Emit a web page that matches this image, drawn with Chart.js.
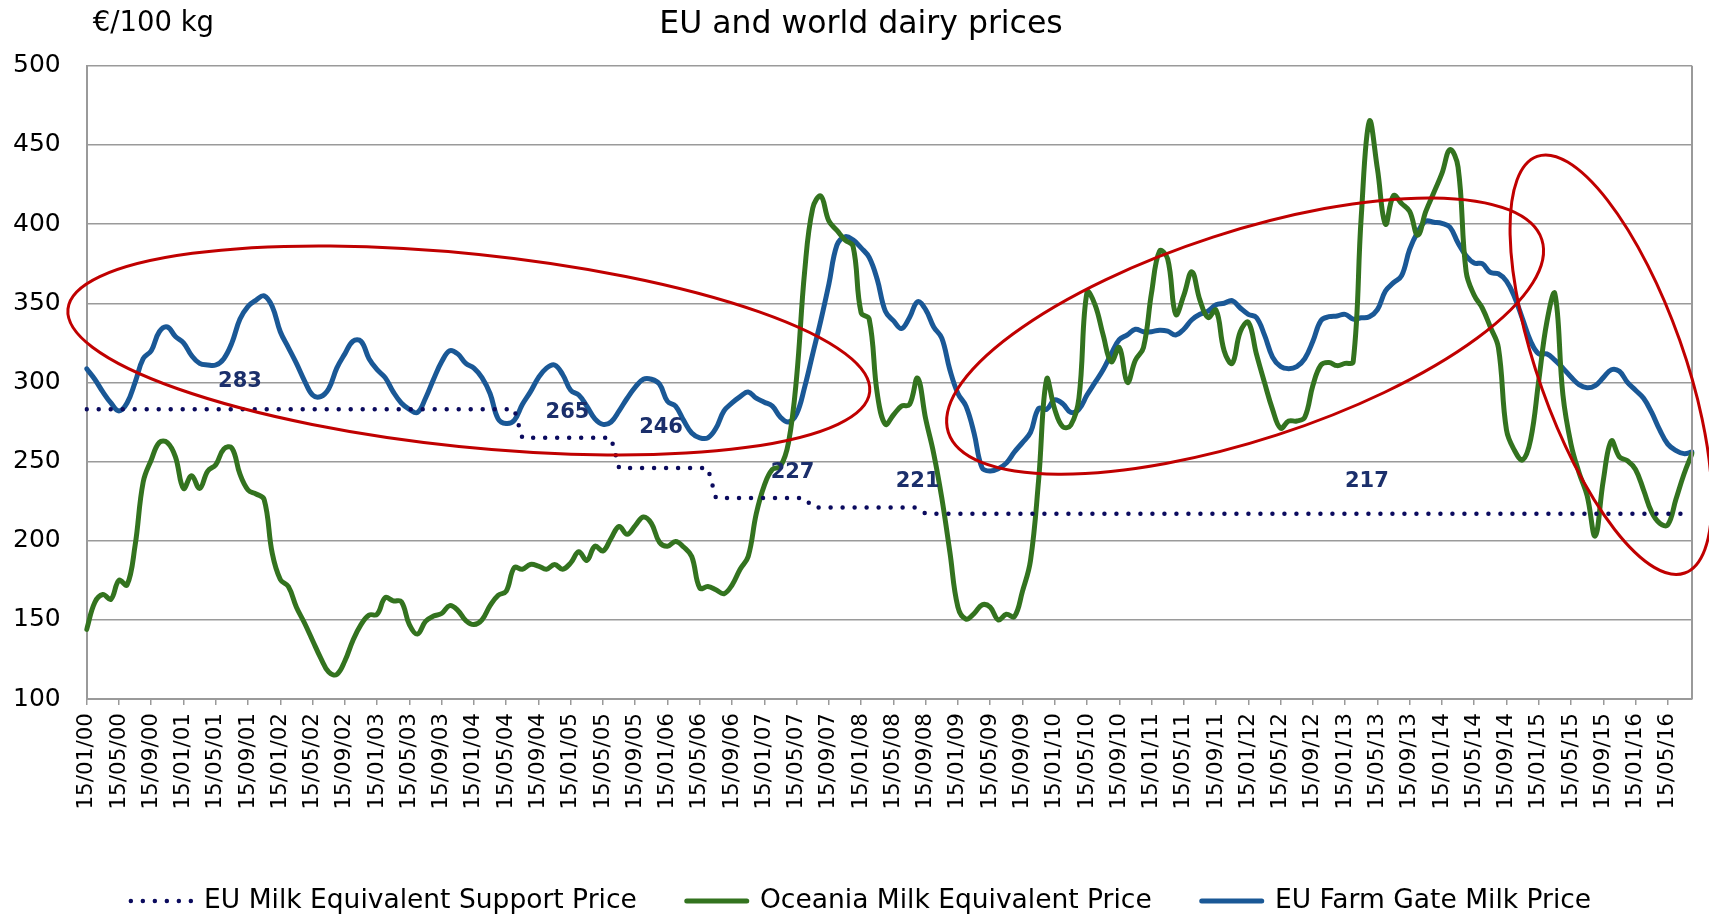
<!DOCTYPE html>
<html>
<head>
<meta charset="utf-8">
<script src="https://cdn.jsdelivr.net/npm/chart.js@4.4.1/dist/chart.umd.min.js"></script>
<style>
html,body{margin:0;padding:0;background:#fff;}
canvas{display:block;}
</style>
</head>
<body>
<canvas id="c" width="1709" height="916"></canvas>
<script>
// ---------- DATA ----------
const chartTitle = 'EU and world dairy prices';
const unitLabel = '€/100 kg';
const seriesNames = ['EU Milk Equivalent Support Price', 'Oceania Milk Equivalent Price', 'EU Farm Gate Milk Price'];

// monthly categories Jan 2000 .. Aug 2016, labelled "15/MM/YY"
const startYear = 2000, monthCount = 200, tickEvery = 4;
const categories = [];
for (let i = 0; i < monthCount; i++) {
  const yy = startYear + Math.floor(i / 12), mm = (i % 12) + 1;
  categories.push('15/' + String(mm).padStart(2, '0') + '/' + String(yy % 100).padStart(2, '0'));
}

// EU support price steps (€/100 kg)
const supportLevels = [283, 265, 246, 227, 221, 217];
const supportMonths = [54, 12, 12, 12, 14, 96];   // months at each level
const supportPrice = [];
supportLevels.forEach((lv, i) => { for (let k = 0; k < supportMonths[i]; k++) supportPrice.push(lv); });

const oceaniaPrice = [
  144, 161, 166, 163, 175, 172, 197, 237, 251, 262, 262, 253,
  233, 241, 233, 244, 248, 258, 258.5, 242, 232, 229.5, 226, 192,
  175.5, 171, 158, 148, 137, 126, 117, 115.5, 124, 137, 147, 153,
  153.5, 164, 162, 161.5, 147, 141, 149, 152.4, 154, 159, 156, 149.5,
  147, 150, 159, 165.5, 168, 183, 182, 185, 184, 182, 185, 182,
  186, 193, 187.5, 196.5, 193.5, 201.5, 209, 204, 209.5, 215, 211, 199,
  196.5, 199.5, 196, 190, 170, 171, 169, 166.5, 172, 182, 190, 217,
  235, 245, 247, 262, 303, 370, 410, 417.7, 402, 396, 390, 386,
  344, 340, 293, 273.5, 279.4, 285, 286, 302.7, 277, 255, 227, 193,
  158, 150.5, 154, 159.5, 158, 150, 153.5, 152, 168, 187.6, 238, 302,
  283, 272, 273, 290, 357, 349, 330, 313, 322, 300, 314, 322,
  356.5, 383, 378, 343, 355, 369.8, 352, 341, 345.7, 320, 312, 332,
  338, 318, 300, 283, 271, 275.6, 275.6, 278, 298, 311, 312.6, 310.6,
  312, 313, 404.8, 465, 435, 400, 418, 413, 408, 393, 408, 420,
  432, 447, 436, 370, 355, 347, 335, 322, 270, 257, 251, 264,
  301, 338, 356, 292, 261, 243, 228.5, 203, 238, 263, 253, 250.5,
  245, 232, 218, 211, 210, 226, 242, 255
];

const farmGatePrice = [
  308.6, 302, 294, 287, 282, 287, 300, 315, 320, 332, 335, 329,
  325, 317, 312, 311, 311, 315, 325, 340, 348, 352, 354.7, 348,
  332, 322, 312, 301, 292, 291, 296, 309, 318, 326, 326, 315,
  308, 303, 294, 287, 283, 281, 290, 302, 313, 320, 318, 312,
  309, 303, 293, 277, 274, 276, 286, 294, 303, 309, 311, 305,
  295, 292, 285, 277, 273.5, 275, 282, 290, 297, 302, 302, 299,
  288, 285, 276, 268, 265, 265, 271, 282, 287, 291, 294, 290,
  287.5, 285, 278, 275, 280, 297, 318, 339, 362, 386.7, 392, 390,
  385, 379, 365, 345, 339, 334, 341, 351, 346, 335, 328, 308,
  293, 285, 268, 246, 244, 245.5, 249, 256, 262, 268.4, 283.5, 283,
  289, 286.5, 281, 283, 292, 300, 308, 318, 327, 330, 333.6, 332,
  332, 333, 332.4, 330, 333.6, 339.6, 343, 345, 349, 350, 351.7, 347,
  343, 341, 330, 316, 310, 308.7, 310, 315, 326, 339, 341.5, 342,
  343, 340, 340.8, 341.5, 346, 357.7, 363, 367.4, 384, 395, 401.9, 401.2,
  400.5, 398, 388, 380, 375.4, 375, 369.5, 368.6, 364, 354, 340, 326,
  318, 318, 314, 309, 303.4, 298.6, 296.6, 298, 303, 308, 307, 300,
  295, 290, 281, 270, 261, 257, 255, 256
];

const yMin = 100, yMax = 500, yStep = 50;
const stepLabels = ['283', '265', '246', '227', '221', '217'];

// ---------- DECORATION CONFIG (positions in data units / px) ----------
const stepLabelAnchors = [[19.0, 300.6], [59.6, 281], [71.2, 271.5], [87.5, 242.8], [103, 237.3], [158.7, 237.4]];
const ellipses = [
  { m: 47.37, v: 320.2, rx: 403, ry: 96.5, rot: 5.9 },
  { m: 143.6, v: 329.3, rx: 312, ry: 104, rot: -18 },
  { m: 188.95, v: 311.2, rx: 221, ry: 73, rot: 70.5 }
];

const FONT = "'DejaVu Sans', Verdana, sans-serif";
Chart.defaults.font.family = FONT;
Chart.defaults.color = '#000';

const decor = {
  id: 'decor',
  afterLayout(chart) {
    // let the y tick labels use the space left of the axis box
    chart.scales.y.left = 0;
  },
  afterDatasetsDraw(chart) {
    const { ctx, chartArea, scales } = chart;
    const x = scales.x, y = scales.y;
    ctx.save();
    ctx.strokeStyle = '#9a9a9a';
    ctx.lineWidth = 2;
    ctx.beginPath();
    ctx.moveTo(chartArea.right, chartArea.top);
    ctx.lineTo(chartArea.right, chartArea.bottom);
    ctx.stroke();

    ctx.fillStyle = '#1b2f6b';
    ctx.font = 'bold 21px ' + FONT;
    ctx.textAlign = 'center';
    ctx.textBaseline = 'middle';
    stepLabels.forEach((t, i) => {
      const a = stepLabelAnchors[i];
      ctx.fillText(t, x.getPixelForValue(a[0]), y.getPixelForValue(a[1]));
    });

    ctx.strokeStyle = '#c00000';
    ctx.lineWidth = 3;
    ellipses.forEach(e => {
      ctx.beginPath();
      ctx.ellipse(x.getPixelForValue(e.m), y.getPixelForValue(e.v), e.rx, e.ry, e.rot * Math.PI / 180, 0, Math.PI * 2);
      ctx.stroke();
    });
    ctx.restore();
  },
  afterDraw(chart) {
    const { ctx, chartArea } = chart;
    ctx.save();
    ctx.fillStyle = '#000';
    ctx.font = '27.5px ' + FONT;
    ctx.textAlign = 'left';
    ctx.textBaseline = 'alphabetic';
    ctx.fillText(unitLabel, chartArea.left + 6, chartArea.top - 35);
    ctx.restore();
  }
};

new Chart(document.getElementById('c'), {
  type: 'line',
  data: {
    labels: categories,
    datasets: [
      {
        label: seriesNames[0], data: supportPrice,
        borderColor: '#0b0b5e', backgroundColor: 'rgba(0,0,0,0)',
        borderWidth: 4.5, borderDash: [0, 12], borderCapStyle: 'round', borderJoinStyle: 'round',
        tension: 0, pointRadius: 0, pointHoverRadius: 0, fill: false
      },
      {
        label: seriesNames[1], data: oceaniaPrice,
        borderColor: '#33731f', backgroundColor: 'rgba(0,0,0,0)',
        borderWidth: 5, borderCapStyle: 'round', borderJoinStyle: 'round',
        tension: 0.4, pointRadius: 0, pointHoverRadius: 0, fill: false
      },
      {
        label: seriesNames[2], data: farmGatePrice,
        borderColor: '#1a5896', backgroundColor: 'rgba(0,0,0,0)',
        borderWidth: 5, borderCapStyle: 'round', borderJoinStyle: 'round',
        tension: 0.4, pointRadius: 0, pointHoverRadius: 0, fill: false
      }
    ]
  },
  options: {
    responsive: false,
    animation: false,
    devicePixelRatio: 1,
    events: [],
    layout: { padding: { left: 30, right: 17, top: 0, bottom: 0 } },
    plugins: {
      title: {
        display: true, text: chartTitle, color: '#000',
        font: { size: 31.5, weight: 'normal', family: FONT },
        padding: { top: 6, bottom: 22 }
      },
      legend: {
        position: 'bottom',
        maxHeight: 78.25,
        labels: {
          usePointStyle: false, boxWidth: 60, boxHeight: 0,
          padding: 50, color: '#000',
          font: { size: 26.5, family: FONT }
        }
      },
      tooltip: { enabled: false }
    },
    scales: {
      x: {
        type: 'category',
        offset: false,
        afterFit(scale) { scale.height = 138.75; scale.paddingLeft = 0; scale.paddingRight = 0; },
        grid: {
          drawOnChartArea: false, drawTicks: true, tickLength: 6, lineWidth: 1.5,
          color: (c) => (c.index % tickEvery === 0 ? '#9a9a9a' : 'rgba(0,0,0,0)')
        },
        border: { display: true, color: '#9a9a9a', width: 2 },
        ticks: {
          autoSkip: false, maxRotation: 90, minRotation: 90, padding: 8,
          color: '#000', font: { size: 21.5, family: FONT },
          callback: function (v, i) { return i % tickEvery === 0 ? categories[i] : ''; }
        }
      },
      y: {
        min: yMin, max: yMax,
        afterFit(scale) { scale.width = 56.7; },
        grid: { color: '#9a9a9a', lineWidth: 1.5, drawTicks: false },
        border: { display: true, color: '#9a9a9a', width: 2 },
        ticks: { stepSize: yStep, padding: 26, color: '#000', font: { size: 25, family: FONT } }
      }
    }
  },
  plugins: [decor]
});
</script>
</body>
</html>
